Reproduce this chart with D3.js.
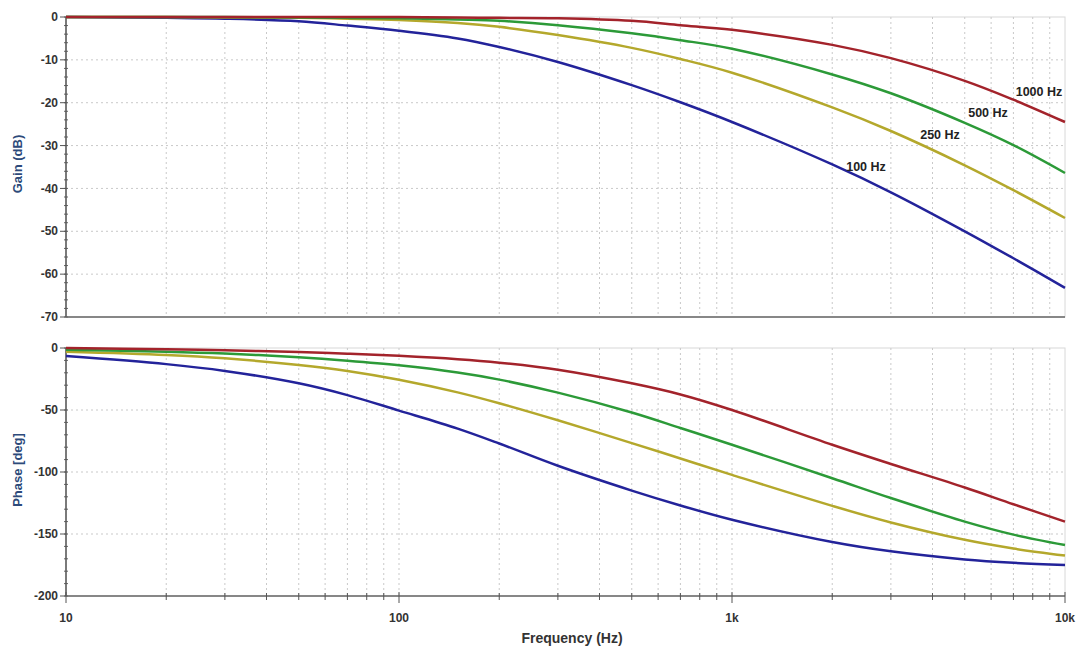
<!DOCTYPE html>
<html>
<head>
<meta charset="utf-8">
<script src="https://cdn.jsdelivr.net/npm/d3@7"></script>
<style>
  body { margin: 0; background: #fff; }
  text { font-family: "Liberation Sans", Arial, sans-serif; }
</style>
</head>
<body>
<script>
// frequency points (Hz)
const freqs = [10, 20, 30, 50, 70, 100, 150, 200, 300, 500, 700, 1000, 2000, 3000, 5000, 7000, 10000]

const seriesNames = ["100 Hz", "250 Hz", "500 Hz", "1000 Hz"]

// gain in dB
const gain100 = [0, -0.2, -0.4, -1.0, -2.0, -3.2, -5.0, -7.0, -10.5, -15.9, -19.9, -24.5, -34.4, -40.9, -50, -56.3, -63.2]
const gain250 = [0, 0, -0.1, -0.2, -0.4, -0.7, -1.4, -2.3, -4.2, -7.2, -9.8, -13, -21.1, -26.6, -34.6, -40.4, -46.9]
const gain500 = [0, 0, 0, -0.1, -0.2, -0.3, -0.6, -0.9, -1.9, -3.8, -5.4, -7.4, -13.4, -17.8, -24.7, -29.9, -36.4]
const gain1000 = [0, 0, 0, 0, 0, 0, -0.1, -0.2, -0.3, -0.9, -1.9, -3.0, -6.5, -9.6, -14.9, -19.3, -24.5]

// phase in degrees
const phase100 = [-6.5, -13, -18.5, -28.5, -38, -50.5, -65, -77, -95, -115, -127, -138.5, -156.5, -164, -170.5, -173.2, -175]
const phase250 = [-3, -5.6, -8.3, -13.7, -18.5, -25.6, -35.8, -44.6, -58.3, -76.7, -89.1, -102.3, -127.3, -140.7, -154.7, -161.7, -167.4]
const phase500 = [-1.5, -3, -4.5, -7.5, -10.3, -14, -19.8, -25.5, -36, -52, -64.5, -78, -105, -121, -140, -150.5, -158.9]
const phase1000 = [0, -1, -1.8, -3.3, -4.6, -6.3, -9, -11.8, -17.5, -28.5, -37.5, -50, -78, -93.5, -112.5, -126, -140]

const gainTicks = [0, -10, -20, -30, -40, -50, -60, -70]
const phaseTicks = [0, -50, -100, -150, -200]
const freqTicks = [10, 100, 1000, 10000]
const freqTickLabels = ["10", "100", "1k", "10k"]

const colors = ["#23239a", "#b4a82c", "#2c9a38", "#a3232b"]

const width = 1082, height = 650
const left = 66, right = 1065

const svg = d3.select("body").append("svg")
    .attr("width", width)
    .attr("height", height)

const x = d3.scaleLog().domain([10, 10000]).range([left, right])
const yGain = d3.scaleLinear().domain([0, -70]).range([17, 317])
const yPhase = d3.scaleLinear().domain([0, -200]).range([348, 596])

// every 1..9 per decade for the vertical grid
const minorFreqs = []
for (let d = 10; d < 10000; d *= 10)
    for (let k = 1; k < 10; k++) minorFreqs.push(d * k)
minorFreqs.push(10000)

function panel(y, ticks, minorStep, series, titleText, titleY) {
    const top = y.range()[0], bottom = y.range()[1]
    const g = svg.append("g")

    // frame
    g.append("rect")
        .attr("x", left).attr("y", top)
        .attr("width", right - left).attr("height", bottom - top)
        .attr("fill", "none").attr("stroke", "#d8d8d8")

    // grid
    g.append("g").selectAll("line")
        .data(minorFreqs.filter(f => f > 10 && f < 10000))
        .join("line")
        .attr("x1", d => x(d)).attr("x2", d => x(d))
        .attr("y1", top).attr("y2", bottom)
        .attr("stroke", "#c9c9c9").attr("stroke-dasharray", "2,3")
    g.append("g").selectAll("line")
        .data(ticks.filter((t, i) => i > 0 && i < ticks.length - 1))
        .join("line")
        .attr("x1", left).attr("x2", right)
        .attr("y1", d => y(d)).attr("y2", d => y(d))
        .attr("stroke", "#c9c9c9").attr("stroke-dasharray", "2,3")

    // left axis
    const yMin = y.domain()[1]
    const minor = d3.range(0, yMin - 0.001, -minorStep)
    g.append("g").selectAll("line")
        .data(minor)
        .join("line")
        .attr("x1", left - 2).attr("x2", left + 2)
        .attr("y1", d => y(d)).attr("y2", d => y(d))
        .attr("stroke", "#666")
    g.append("g").selectAll("line")
        .data(ticks)
        .join("line")
        .attr("x1", left - 6).attr("x2", left)
        .attr("y1", d => y(d)).attr("y2", d => y(d))
        .attr("stroke", "#555")
    g.append("g").selectAll("text")
        .data(ticks)
        .join("text")
        .attr("x", left - 8).attr("y", d => y(d))
        .attr("dy", "0.35em")
        .attr("text-anchor", "end")
        .attr("font-size", 12).attr("font-weight", "bold")
        .attr("fill", "#333")
        .text(d => d)
    g.append("line")
        .attr("x1", left).attr("x2", left)
        .attr("y1", top).attr("y2", bottom)
        .attr("stroke", "#555").attr("stroke-width", 1.5)
    g.append("line")
        .attr("x1", left).attr("x2", right)
        .attr("y1", bottom).attr("y2", bottom)
        .attr("stroke", "#666").attr("stroke-width", 1.5)

    g.append("text")
        .attr("transform", `translate(22,${titleY}) rotate(-90)`)
        .attr("text-anchor", "middle")
        .attr("font-size", 13).attr("font-weight", "bold")
        .attr("fill", "#2d4a7a")
        .text(titleText)

    // curves
    const line = d3.line()
        .x((d, i) => x(freqs[i]))
        .y(d => y(d))
        .curve(d3.curveCatmullRom.alpha(0.5))
    g.append("g").selectAll("path")
        .data(series)
        .join("path")
        .attr("d", d => line(d))
        .attr("fill", "none")
        .attr("stroke", (d, i) => colors[i])
        .attr("stroke-width", 2.5)

    return g
}

const gTop = panel(yGain, gainTicks, 2, [gain100, gain250, gain500, gain1000], "Gain (dB)", 164)
const gBot = panel(yPhase, phaseTicks, 10, [phase100, phase250, phase500, phase1000], "Phase [deg]", 470)

// curve labels on the gain panel
const labelPos = [[866, 167], [940, 135], [988, 113], [1039, 92]]
gTop.append("g").selectAll("text")
    .data(seriesNames)
    .join("text")
    .attr("x", (d, i) => labelPos[i][0])
    .attr("y", (d, i) => labelPos[i][1])
    .attr("dy", "0.35em")
    .attr("text-anchor", "middle")
    .attr("font-size", 12.5).attr("font-weight", "bold")
    .attr("fill", "#222")
    .text(d => d)

// frequency axis ticks at the bottom
const yb = yPhase.range()[1]
gBot.append("g").selectAll("line")
    .data(minorFreqs)
    .join("line")
    .attr("x1", d => x(d)).attr("x2", d => x(d))
    .attr("y1", d => freqTicks.includes(d) ? yb - 4 : yb - 3)
    .attr("y2", d => freqTicks.includes(d) ? yb + 7 : yb + 4)
    .attr("stroke", "#555")
gBot.append("g").selectAll("text")
    .data(freqTicks)
    .join("text")
    .attr("x", d => x(d)).attr("y", 618)
    .attr("dy", "0.35em")
    .attr("text-anchor", "middle")
    .attr("font-size", 12).attr("font-weight", "bold")
    .attr("fill", "#333")
    .text((d, i) => freqTickLabels[i])

svg.append("text")
    .attr("x", 572).attr("y", 638)
    .attr("dy", "0.35em")
    .attr("text-anchor", "middle")
    .attr("font-size", 14).attr("font-weight", "bold")
    .attr("fill", "#333")
    .text("Frequency (Hz)")
</script>
</body>
</html>
